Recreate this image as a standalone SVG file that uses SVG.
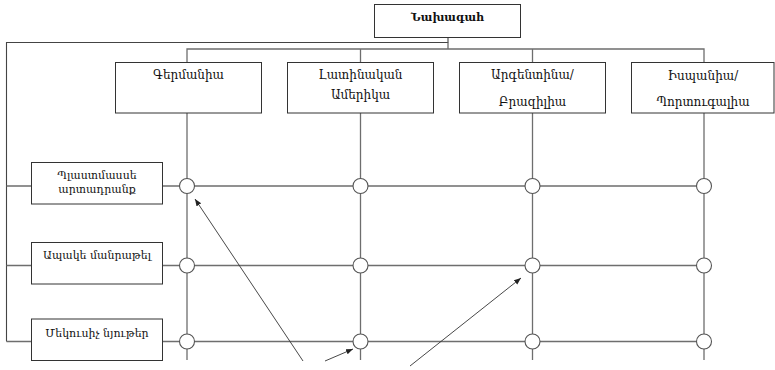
<svg xmlns="http://www.w3.org/2000/svg" width="775" height="370" viewBox="0 0 775 370">
  <defs>
    <marker id="ah" viewBox="0 0 10 10" refX="10" refY="5" markerWidth="7" markerHeight="7" orient="auto" markerUnits="userSpaceOnUse">
      <path d="M0,1 L10,5 L0,9 z" fill="#222"/>
    </marker>
  </defs>
  <style>
    .box { fill: #fff; stroke: #333; stroke-width: 1; }
    .ln { fill: none; stroke: #6e6e6e; stroke-width: 1.3; }
    .frame { fill: none; stroke: #444; stroke-width: 1.1; }
    .node { fill: #fff; stroke: #555; stroke-width: 1.1; }
    .arr { fill: none; stroke: #333; stroke-width: 0.9; marker-end: url(#ah); }
    text { font-family: "DejaVu Serif", "Noto Serif", serif; font-size: 12px; fill: #111; text-anchor: middle; }
    .b { font-weight: bold; font-size: 11px; }
    .s { font-size: 11px; }
  </style>

  <!-- connectors -->
  <g id="connectors">
    <!-- outer frame from the head down the left side -->
    <path class="frame" d="M448,37 V42.5 H6.5 V341.5"/>
    <!-- bus to the column headers -->
    <path class="ln" d="M448,42.5 V49 M187,62 V49 H704 V62 M360.5,49 V62 M532.5,49 V62"/>
    <!-- column lines -->
    <path class="ln" d="M187,113 V360 M360.5,113 V360 M532.5,113 V360 M704,113 V360"/>
    <!-- row feeders -->
    <path class="ln" d="M6.5,186 H31 M6.5,265.5 H31 M6.5,341.5 H31"/>
    <!-- row lines -->
    <path class="ln" d="M163,186 H704 M163,265.5 H704 M163,341.5 H704"/>
    <!-- pointer arrows -->
    <line class="arr" x1="303" y1="361" x2="195" y2="199"/>
    <line class="arr" x1="325" y1="361" x2="353" y2="349"/>
    <line class="arr" x1="410" y1="366" x2="521" y2="278"/>
  </g>

  <!-- intersections -->
  <g id="nodes-grid">
    <circle class="node" cx="187" cy="186" r="7.5"/>
    <circle class="node" cx="360.5" cy="186" r="7.5"/>
    <circle class="node" cx="532.5" cy="186" r="7.5"/>
    <circle class="node" cx="704" cy="186" r="7.5"/>
    <circle class="node" cx="187" cy="265.5" r="7.5"/>
    <circle class="node" cx="360.5" cy="265.5" r="7.5"/>
    <circle class="node" cx="532.5" cy="265.5" r="7.5"/>
    <circle class="node" cx="704" cy="265.5" r="7.5"/>
    <circle class="node" cx="187" cy="341.5" r="7.5"/>
    <circle class="node" cx="360.5" cy="341.5" r="7.5"/>
    <circle class="node" cx="532.5" cy="341.5" r="7.5"/>
    <circle class="node" cx="704" cy="341.5" r="7.5"/>
  </g>

  <g id="head">
    <rect class="box" x="374.5" y="4.5" width="146" height="33"/>
    <text class="b" x="447.5" y="21">Նախագահ</text>
  </g>

  <g id="col-germany">
    <rect class="box" x="115.5" y="62.5" width="146" height="50.5"/>
    <text x="188.5" y="79">Գերմանիա</text>
  </g>
  <g id="col-latam">
    <rect class="box" x="287.5" y="62.5" width="146" height="50.5"/>
    <text x="360.5" y="79">Լատինական</text>
    <text x="360.5" y="99">Ամերիկա</text>
  </g>
  <g id="col-argbra">
    <rect class="box" x="459.5" y="62.5" width="146" height="50.5"/>
    <text x="532.5" y="79">Արգենտինա/</text>
    <text x="532.5" y="105.5">Բրազիլիա</text>
  </g>
  <g id="col-spapor">
    <rect class="box" x="631.5" y="62.5" width="142.5" height="50.5"/>
    <text x="703" y="79.5">Իսպանիա/</text>
    <text x="703" y="105.5">Պորտուգալիա</text>
  </g>

  <g id="row-plastic">
    <rect class="box" x="31.5" y="162.5" width="131" height="41.5"/>
    <text class="s" x="97" y="178.5">Պլաստմասսե</text>
    <text class="s" x="97" y="192.5">արտադրանք</text>
  </g>
  <g id="row-glass">
    <rect class="box" x="31.5" y="242.5" width="131" height="41.5"/>
    <text class="s" x="97" y="259">Ապակե մանրաթել</text>
  </g>
  <g id="row-insul">
    <rect class="box" x="31.5" y="319" width="131" height="41.5"/>
    <text class="s" x="97" y="337">Մեկուսիչ նյութեր</text>
  </g>
</svg>
